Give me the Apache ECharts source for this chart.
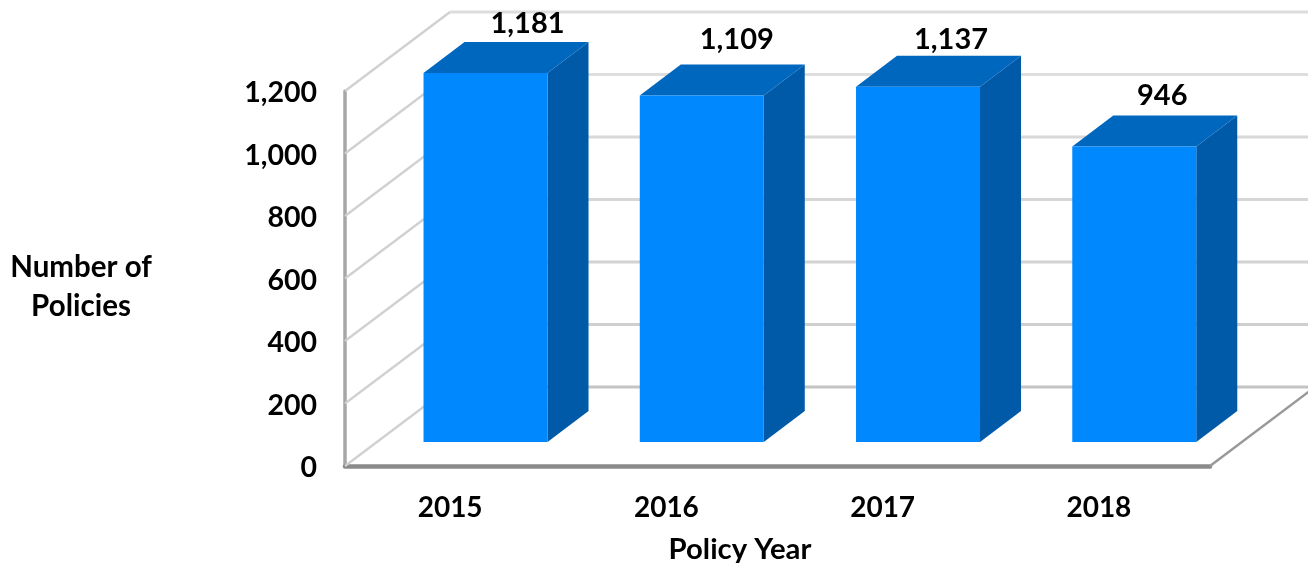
<!DOCTYPE html>
<html>
<head>
<meta charset="utf-8">
<style>html,body{margin:0;padding:0;background:#fff}#c{width:1308px;height:563px}</style>
<script src="https://cdn.jsdelivr.net/npm/echarts@6/dist/echarts.min.js"></script>
</head>
<body>
<div id="c"></div>
<script>
var categories = ['2015', '2016', '2017', '2018'];
var policies = [1181, 1109, 1137, 946];
var yTicks = [0, 200, 400, 600, 800, 1000, 1200];
var xTitle = 'Policy Year';
var yTitle = 'Number of\nPolicies';

// layout and style of the 3D look
var FONT = 'Lato, "Open Sans", sans-serif';
var WALL = { dx: 105, dy: 79 };
var BAR = { shift: 32.4, width: 124, lift: 24, dx: 41, dy: 31 };
var LABEL_NUDGE = [[1, -18], [-6, -25], [-8, -16], [-13, -20]];
var GRID_COLORS = ['#c4c4c4', '#cfcfcf', '#d2d2d2', '#d6d6d6', '#d8d8d8', '#dedede', '#dcdcdc'];

function poly(points, fill) {
  return { type: 'polygon', shape: { points: points }, style: { fill: fill } };
}
function line(x1, y1, x2, y2, color, w) {
  return { type: 'line', shape: { x1: x1, y1: y1, x2: x2, y2: y2 }, style: { stroke: color, lineWidth: w } };
}

function renderWall(params, api) {
  var g = params.coordSys;
  var y = api.coord([0, api.value(1)])[1];
  var c = GRID_COLORS[params.dataIndex];
  var xl = g.x, xb = g.x + WALL.dx, xr = g.x + g.width + WALL.dx;
  var kids = [
    line(xl, y, xb, y - WALL.dy, '#d0d0d0', 2.2),
    line(xb, y - WALL.dy, xr, y - WALL.dy, c, 3)
  ];
  if (api.value(1) === 0) {
    kids.push(line(g.x + g.width, y, xr, y - WALL.dy, '#999999', 2.5));
  }
  return { type: 'group', children: kids };
}

function renderBar(params, api) {
  var i = api.value(0), v = api.value(1);
  var cx = api.coord([i, 0])[0] + BAR.shift;
  var y0 = api.coord([i, 0])[1] - BAR.lift;
  var yv = api.coord([i, v])[1] - BAR.lift;
  var l = cx - BAR.width / 2, r = cx + BAR.width / 2;
  var dx = BAR.dx, dy = BAR.dy;
  var n = LABEL_NUDGE[params.dataIndex];
  return {
    type: 'group',
    children: [
      poly([[r, yv], [r + dx, yv - dy], [r + dx, y0 - dy], [r, y0]], '#005AA8'),
      poly([[l, yv], [l + dx, yv - dy], [r + dx, yv - dy], [r, yv]], '#0067BF'),
      { type: 'rect', shape: { x: l, y: yv, width: BAR.width, height: y0 - yv }, style: { fill: '#0088FF' } },
      {
        type: 'text',
        style: {
          x: l + dx + BAR.width / 2 + n[0],
          y: yv - dy + n[1],
          text: v.toLocaleString('en-US'),
          font: 'bold 29px ' + FONT,
          fill: '#000',
          align: 'center',
          verticalAlign: 'middle'
        }
      }
    ]
  };
}

var chart = echarts.init(document.getElementById('c'), null, { renderer: 'canvas' });
chart.setOption({
  animation: false,
  backgroundColor: '#ffffff',
  title: [
    { text: yTitle, left: 76, top: 243, textAlign: 'center',
      textStyle: { fontFamily: FONT, fontWeight: 'bold', fontSize: 29.5, lineHeight: 39, color: '#000' } },
    { text: xTitle, left: 735, top: 530, textAlign: 'center',
      textStyle: { fontFamily: FONT, fontWeight: 'bold', fontSize: 29.3, color: '#000' } }
  ],
  grid: { left: 345, right: 98, top: 91, bottom: 97 },
  xAxis: {
    type: 'category',
    data: categories,
    axisLine: { lineStyle: { color: '#8a8a8a', width: 4.5 } },
    axisTick: { show: false },
    axisLabel: { fontFamily: FONT, fontWeight: 'bold', fontSize: 28, color: '#000', margin: 28, padding: [0, 6, 0, 0] }
  },
  yAxis: {
    type: 'value',
    min: 0,
    max: 1200,
    interval: 200,
    axisLine: { show: true, lineStyle: { color: '#a6a6a6', width: 3.5 } },
    axisTick: { show: false },
    splitLine: { show: false },
    axisLabel: {
      color: '#000', margin: 28,
      formatter: function (v) { return '{n|' + v.toLocaleString('en-US') + '}'; },
      rich: { n: { fontFamily: FONT, fontWeight: 'bold', fontSize: 28.5, color: '#000', padding: [4, 0, 0, 0] } }
    }
  },
  series: [
    {
      type: 'custom', renderItem: renderWall, silent: true, clip: false, z: 1,
      encode: { x: 0, y: 1 },
      data: yTicks.map(function (t) { return [0, t]; })
    },
    {
      type: 'custom', renderItem: renderBar, silent: true, clip: false, z: 5,
      encode: { x: 0, y: 1 },
      data: policies.map(function (v, i) { return [i, v]; })
    }
  ]
});
</script>
</body>
</html>
